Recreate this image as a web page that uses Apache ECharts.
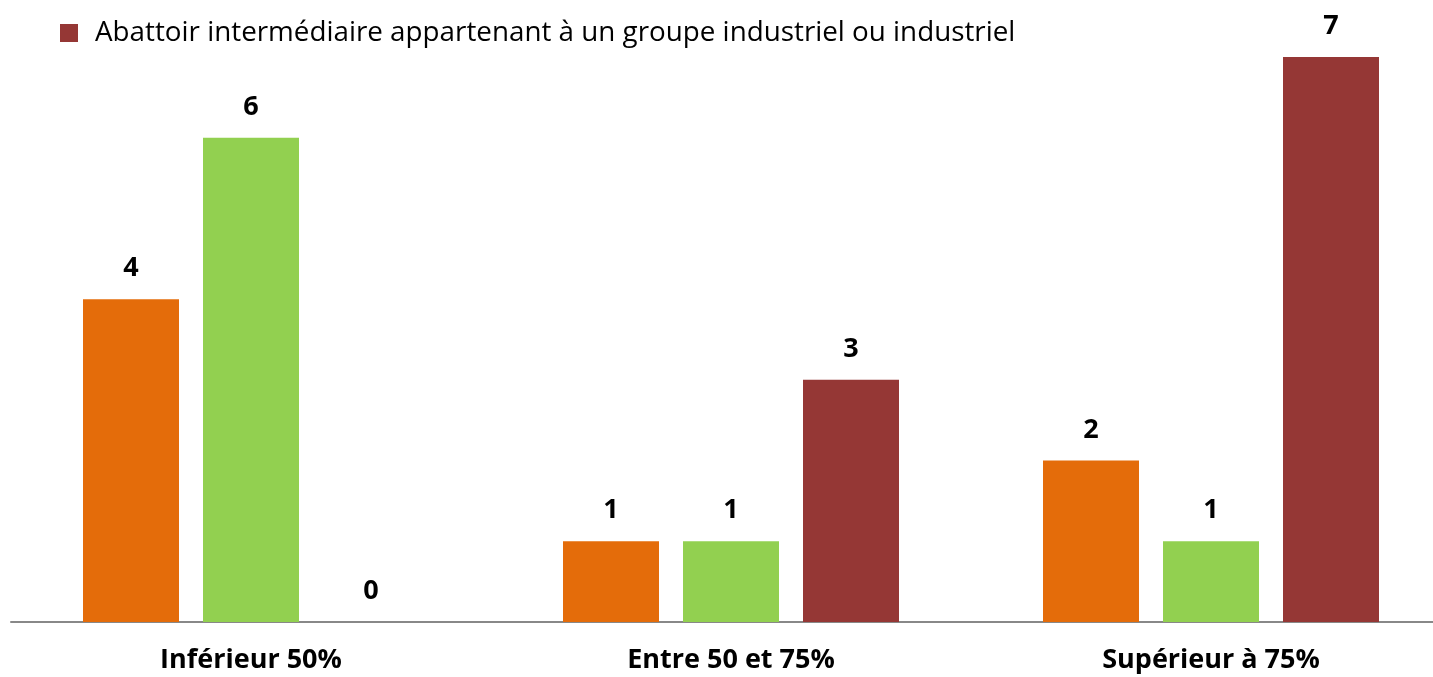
<!DOCTYPE html>
<html style="height: 100%; width: 100%;">
<head>
    <meta charset="utf-8">
    <title>Abattoirs</title>
</head>
<body style="height: 100%; margin: 0; width: 100%; background: #fff;">
    <div id="chartContainer" style="width: 1433px; height: 677px;"></div>

    <script type="text/javascript" src="https://cdn.jsdelivr.net/npm/echarts@6/dist/echarts.min.js"></script>
    <script type="text/javascript">
        var categories = ['Inférieur 50%', 'Entre 50 et 75%', 'Supérieur à 75%'];
        var seriesNames = [
            'Abattoir public',
            'Abattoir intermédiaire indépendant',
            'Abattoir intermédiaire appartenant à un groupe industriel ou industriel'
        ];
        var orangeValues = [4, 1, 2];
        var greenValues = [6, 1, 1];
        var redValues = [0, 3, 7];
        var colors = ['#e46c0a', '#92d050', '#953735'];

        var dom = document.getElementById('chartContainer');
        var myChart = echarts.init(dom);

        var labelStyle = {
            show: true,
            position: 'top',
            distance: 17,
            color: '#000',
            fontWeight: 'bold',
            fontSize: 27,
            fontFamily: 'Open Sans'
        };

        function makeSeries(name, data, color) {
            return {
                name: name,
                type: 'bar',
                data: data,
                barGap: '25%',
                barCategoryGap: '30%',
                itemStyle: { color: color },
                label: labelStyle
            };
        }

        var option = {
            animation: false,
            legend: {
                data: [seriesNames[2]],
                left: 55,
                top: 14,
                icon: 'rect',
                itemWidth: 18,
                itemHeight: 18,
                textStyle: {
                    fontSize: 27.8,
                    color: '#000',
                    fontFamily: 'Open Sans',
                    padding: [0, 0, 0, 12]
                }
            },
            // the plot is a bit wider than the window, the right edge is cut
            grid: {
                left: 11,
                width: 1440,
                top: 57,
                bottom: 55,
                containLabel: false,
                outerBoundsMode: 'none'
            },
            xAxis: {
                type: 'category',
                data: categories,
                axisTick: { show: false },
                axisLine: { lineStyle: { color: '#888', width: 2 } },
                axisLabel: {
                    margin: 25,
                    color: '#000',
                    fontWeight: 'bold',
                    fontSize: 27,
                    fontFamily: 'Open Sans'
                }
            },
            yAxis: {
                type: 'value',
                min: 0,
                max: 7,
                show: false,
                splitLine: { show: false }
            },
            series: [
                makeSeries(seriesNames[0], orangeValues, colors[0]),
                makeSeries(seriesNames[1], greenValues, colors[1]),
                makeSeries(seriesNames[2], redValues, colors[2])
            ]
        };

        myChart.setOption(option);
    </script>
</body>
</html>
